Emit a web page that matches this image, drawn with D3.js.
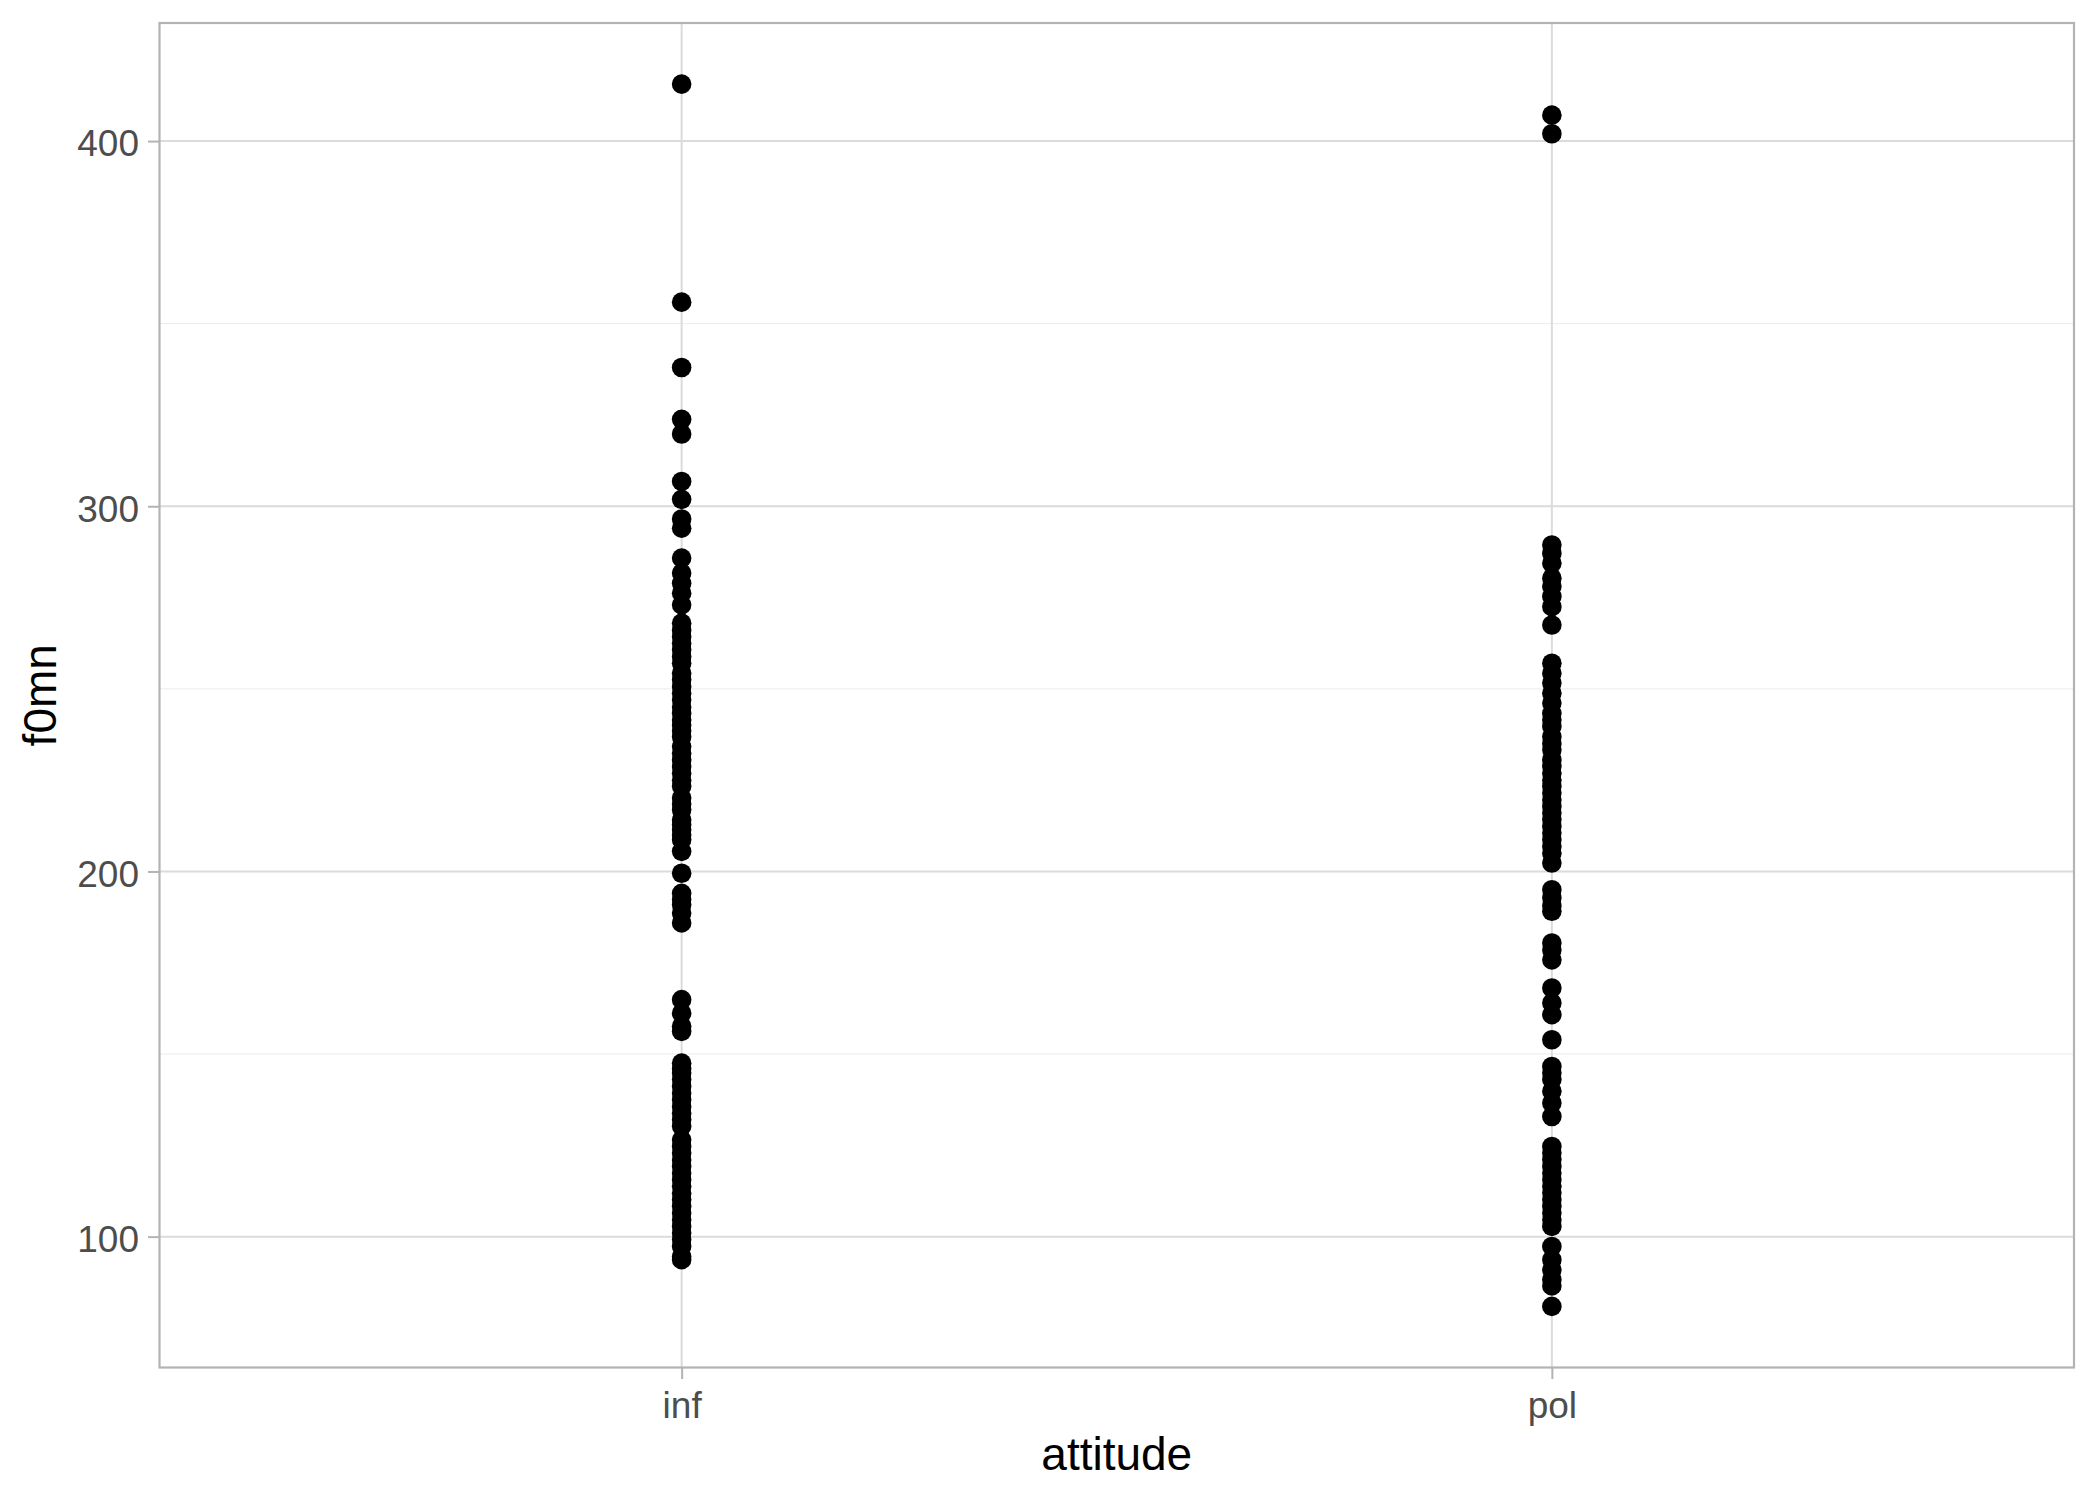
<!DOCTYPE html>
<html>
<head>
<meta charset="utf-8">
<script src="https://cdn.jsdelivr.net/npm/d3@7"></script>
<style>
  body { margin: 0; background: #fff; }
  svg { display: block; font-family: "Liberation Sans", Arial, sans-serif; }
</style>
</head>
<body>
<div id="chart"></div>
<script>
// categories on the x axis
const attitudes = ["inf", "pol"];

// f0mn readings for each attitude
const infValues = [
  415.6, 355.9, 338.0, 323.8, 319.8, 306.8, 301.9, 296.5, 294.0, 285.8,
  281.7, 278.9, 276.2, 273.0, 268.0, 266.0, 264.3, 262.5, 260.7, 258.8,
  257.0, 254.3, 252.5, 250.6, 248.8, 247.0, 245.0, 243.3, 241.5, 240.1,
  238.5, 236.9, 234.2, 232.4, 230.6, 228.7, 226.9, 225.0, 223.3, 220.1,
  218.5, 216.9, 214.1, 212.8, 211.4, 210.0, 208.7, 205.5, 199.5, 194.0,
  192.3, 190.9, 188.6, 185.9, 164.9, 161.2, 157.6, 156.2, 147.5, 146.0,
  144.8, 143.0, 141.1, 139.3, 137.5, 135.6, 133.8, 132.0, 130.2, 126.5,
  124.7, 122.9, 121.0, 119.2, 117.4, 115.6, 113.8, 111.9, 110.1, 108.3,
  106.5, 104.6, 102.8, 101.0, 99.2, 97.3, 94.5, 93.7
];
const polValues = [
  407.1, 402.0, 289.4, 287.1, 284.4, 280.3, 278.0, 275.3, 272.5, 267.5,
  257.0, 254.3, 251.6, 248.8, 246.1, 243.3, 241.5, 239.7, 236.9, 235.0,
  233.3, 230.6, 228.8, 226.9, 225.0, 223.3, 221.5, 219.6, 217.8, 216.0,
  214.2, 212.3, 210.5, 208.7, 206.8, 205.0, 202.3, 195.0, 192.8, 190.6,
  189.1, 180.4, 178.5, 175.8, 168.1, 164.0, 160.8, 153.9, 146.6, 144.8,
  143.0, 139.8, 136.6, 132.9, 124.7, 122.9, 121.1, 119.2, 117.4, 115.6,
  113.8, 112.0, 110.1, 108.3, 106.5, 104.6, 102.8, 97.3, 93.7, 90.9,
  88.2, 86.5, 80.9
];

const majorTicks = [100, 200, 300, 400];
const minorTicks = [150, 250, 350];

const width = 2100;
const height = 1500;
const panel = { left: 159.5, right: 2074, top: 23, bottom: 1367.5 };

const points = [
  ...infValues.map((v) => ({ attitude: "inf", f0mn: v })),
  ...polValues.map((v) => ({ attitude: "pol", f0mn: v }))
];

const svg = d3.select("#chart")
  .append("svg")
  .attr("width", width)
  .attr("height", height);

// ggplot style 5% expansion on the continuous axis
const [lo, hi] = d3.extent(points, (d) => d.f0mn);
const pad = (hi - lo) * 0.05;

const y = d3.scaleLinear()
  .domain([lo - pad, hi + pad])
  .range([panel.bottom, panel.top]);

// discrete axis, 0.6 units of padding on each side
const x = d3.scalePoint()
  .domain(attitudes)
  .range([panel.left, panel.right])
  .padding(0.6);

// minor grid
svg.append("g")
  .selectAll("line")
  .data(minorTicks)
  .join("line")
  .attr("x1", panel.left).attr("x2", panel.right)
  .attr("y1", (d) => y(d)).attr("y2", (d) => y(d))
  .attr("stroke", "#ebebeb")
  .attr("stroke-width", 1);

// major grid
svg.append("g")
  .selectAll("line")
  .data(majorTicks)
  .join("line")
  .attr("x1", panel.left).attr("x2", panel.right)
  .attr("y1", (d) => y(d)).attr("y2", (d) => y(d))
  .attr("stroke", "#dbdbdb")
  .attr("stroke-width", 2);

svg.append("g")
  .selectAll("line")
  .data(attitudes)
  .join("line")
  .attr("x1", (d) => x(d)).attr("x2", (d) => x(d))
  .attr("y1", panel.top).attr("y2", panel.bottom)
  .attr("stroke", "#dbdbdb")
  .attr("stroke-width", 2);

// points
svg.append("g")
  .selectAll("circle")
  .data(points)
  .join("circle")
  .attr("cx", (d) => x(d.attitude))
  .attr("cy", (d) => y(d.f0mn))
  .attr("r", 9.8)
  .attr("fill", "#000");

// panel border
svg.append("rect")
  .attr("x", panel.left)
  .attr("y", panel.top)
  .attr("width", panel.right - panel.left)
  .attr("height", panel.bottom - panel.top)
  .attr("fill", "none")
  .attr("stroke", "#b3b3b3")
  .attr("stroke-width", 2.2);

// axes
const yAxis = svg.append("g")
  .attr("transform", `translate(${panel.left},0)`)
  .call(d3.axisLeft(y).tickValues(majorTicks).tickSize(11.5).tickPadding(9));

const xAxis = svg.append("g")
  .attr("transform", `translate(0,${panel.bottom})`)
  .call(d3.axisBottom(x).tickSize(11.5).tickPadding(13));

[yAxis, xAxis].forEach((g) => {
  g.select(".domain").remove();
  g.selectAll(".tick line").attr("stroke", "#b3b3b3").attr("stroke-width", 2);
  g.selectAll(".tick text")
    .attr("fill", "#4d4d4d")
    .style("font-size", "37px")
    .style("font-family", "'Liberation Sans', Arial, sans-serif");
});
yAxis.selectAll(".tick text").attr("dy", "0.4em");

// axis titles
svg.append("text")
  .attr("x", (panel.left + panel.right) / 2)
  .attr("y", 1470)
  .attr("text-anchor", "middle")
  .style("font-size", "46px")
  .attr("fill", "#000")
  .text("attitude");

svg.append("text")
  .attr("transform", `translate(56,${(panel.top + panel.bottom) / 2}) rotate(-90)`)
  .attr("text-anchor", "middle")
  .style("font-size", "46px")
  .attr("fill", "#000")
  .text("f0mn");
</script>
</body>
</html>
